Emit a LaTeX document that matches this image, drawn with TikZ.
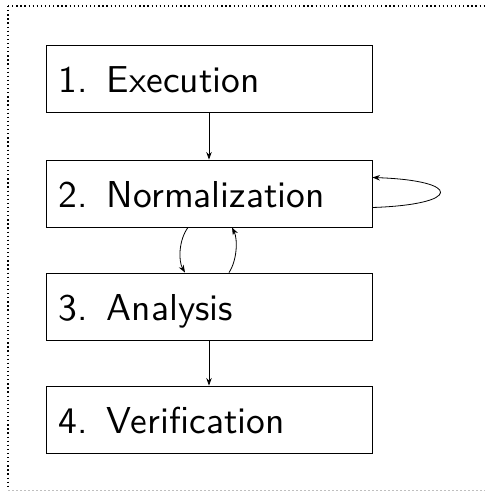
\documentclass[tikz,border=0pt]{standalone}
\usepackage{fontspec}
\newfontfamily\stagefont{lmsans10-regular.otf}
\usetikzlibrary{arrows.meta}
\begin{document}
\begin{tikzpicture}[x=1pt,y=-1pt,
  stagebox/.style={draw, line width=0.9pt, minimum width=326pt, minimum height=67pt,
    text width=300pt, inner xsep=13pt, inner ysep=0pt, align=left,
    text height=27pt, text depth=0pt,
    font=\stagefont\fontsize{37.5}{45}\selectfont},
  flow/.style={line width=0.8pt, -{Stealth[length=7.5pt,width=5.5pt]}},
  framedots/.style={line width=1.8pt, dash pattern=on 1.3pt off 2.8pt}]
  \useasboundingbox (0,0) rectangle (485,491);
  % dotted frame around the pipeline
  \begin{scope}
    \clip (0,0) rectangle (485,491);
    \draw[framedots] (8,6) -- (8,489.5);
    \draw[framedots] (8,6) -- (500,6);
    \draw[line width=1pt, gray!50, dash pattern=on 2pt off 2pt] (8,490) -- (500,490);
  \end{scope}
  % the four stages
  \node[stagebox] (exec) at (209,78.5) {1. Execution};
  \node[stagebox] (norm) at (209,193.5) {2. Normalization};
  \node[stagebox] (anal) at (209,306.5) {3. Analysis};
  \node[stagebox] (veri) at (209,419.5) {4. Verification};
  % connectors
  \draw[flow] (exec) -- (norm);
  \draw[flow] (anal) -- (veri);
  \draw[flow] ([xshift=-21pt]norm.south) .. controls ++(-9,12) and ++(-7,-12) .. ([xshift=-24pt]anal.north);
  \draw[flow] ([xshift=20pt]anal.north) .. controls ++(8,-12) and ++(6,12) .. ([xshift=23pt]norm.south);
  \draw[flow] ([yshift=-14pt]norm.east) .. controls ++(90,-3) and ++(90,3) .. ([yshift=16pt]norm.east);
\end{tikzpicture}
\end{document}
